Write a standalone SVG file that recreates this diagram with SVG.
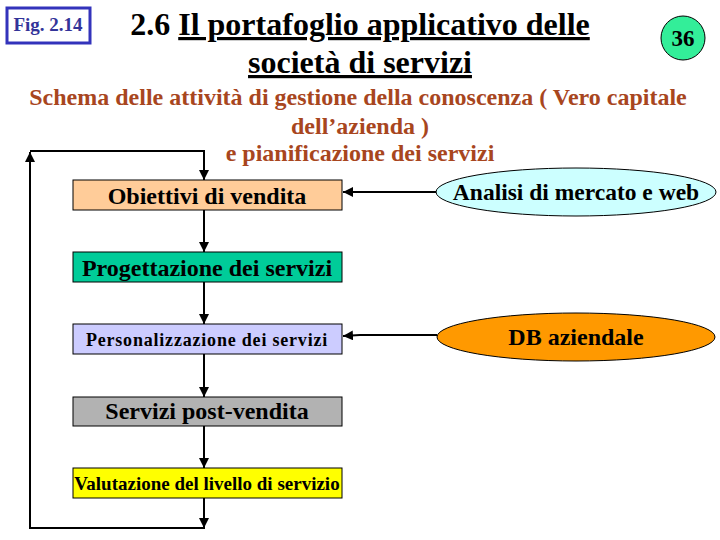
<svg xmlns="http://www.w3.org/2000/svg" width="720" height="540" viewBox="0 0 720 540">
<style>
text{font-family:"Liberation Serif","Times New Roman",serif;font-weight:700;}
.box{stroke:#000;stroke-width:1;}
.lbl{text-anchor:middle;fill:#000;}
.sub{fill:#A8461E;font-size:24px;text-anchor:middle;}
.ln{stroke:#000;stroke-width:2;fill:none;}
</style>
<defs>
<marker id="ah" viewBox="0 0 10 10" refX="10" refY="5" markerWidth="5" markerHeight="5" orient="auto" markerUnits="strokeWidth">
<path d="M0,0 L10,5 L0,10 z" fill="#000"/>
</marker>
</defs>
<rect width="720" height="540" fill="#fff"/>
<g id="fig">
<rect x="7" y="8" width="83" height="35" fill="#fff" stroke="#3333BB" stroke-width="3"/>
<text x="48" y="31" font-size="19" fill="#333399" text-anchor="middle">Fig. 2.14</text>
</g>
<g id="title">
<text x="360" y="35" font-size="32" text-anchor="middle" fill="#000">2.6 <tspan text-decoration="underline">Il portafoglio applicativo delle</tspan></text>
<text x="360" y="73" font-size="32" text-anchor="middle" fill="#000" text-decoration="underline">società di servizi</text>
</g>
<g id="page">
<circle cx="683" cy="38" r="22" fill="#33EE99" stroke="#000" stroke-width="1"/>
<text x="683" y="46" font-size="23" text-anchor="middle" fill="#000">36</text>
</g>
<g id="subtitle">
<text class="sub" x="358" y="105">Schema delle attività di gestione della conoscenza ( Vero capitale</text>
<text class="sub" x="360" y="134">dell’azienda )</text>
<text class="sub" x="360" y="161">e pianificazione dei servizi</text>
</g>
<g id="connectors">
<polyline class="ln" points="204,498 204,528 30,528 30,152" marker-end="url(#ah)"/>
<polyline class="ln" points="30,151 204,151 204,180" marker-end="url(#ah)"/>
<line class="ln" x1="204" y1="210" x2="204" y2="252" marker-end="url(#ah)"/>
<line class="ln" x1="204" y1="282" x2="204" y2="324" marker-end="url(#ah)"/>
<line class="ln" x1="204" y1="354" x2="204" y2="397" marker-end="url(#ah)"/>
<line class="ln" x1="204" y1="426" x2="204" y2="468" marker-end="url(#ah)"/>
<line class="ln" x1="204" y1="498" x2="204" y2="528" marker-end="url(#ah)"/>
<polyline class="ln" points="437,192 360,192 343,192" marker-end="url(#ah)"/>
<polyline class="ln" points="437,335 360,335 343,336" marker-end="url(#ah)"/>
</g>
<g id="obiettivi">
<rect class="box" x="73" y="180" width="269" height="30" fill="#FFCC99"/>
<text class="lbl" x="207" y="204" font-size="24">Obiettivi di vendita</text>
</g>
<g id="progettazione">
<rect class="box" x="73" y="252" width="269" height="30" fill="#00CC99"/>
<text class="lbl" x="207" y="276" font-size="24">Progettazione dei servizi</text>
</g>
<g id="personalizzazione">
<rect class="box" x="73" y="324" width="269" height="30" fill="#CCCCFF"/>
<text class="lbl" x="207" y="346" font-size="18" letter-spacing="0.8">Personalizzazione dei servizi</text>
</g>
<g id="postvendita">
<rect class="box" x="73" y="397" width="269" height="29" fill="#B2B2B2"/>
<text class="lbl" x="207" y="419" font-size="24">Servizi post-vendita</text>
</g>
<g id="valutazione">
<rect class="box" x="73" y="468" width="269" height="30" fill="#FFFF00"/>
<text class="lbl" x="207" y="490" font-size="19">Valutazione del livello di servizio</text>
</g>
<g id="analisi">
<ellipse cx="576" cy="192" rx="140" ry="24" fill="#CCFFFF" stroke="#000" stroke-width="1"/>
<text class="lbl" x="576" y="200" font-size="23.5">Analisi di mercato e web</text>
</g>
<g id="db">
<ellipse cx="576" cy="337" rx="139" ry="24" fill="#FF9900" stroke="#000" stroke-width="1"/>
<text class="lbl" x="576" y="345" font-size="24">DB aziendale</text>
</g>
</svg>
